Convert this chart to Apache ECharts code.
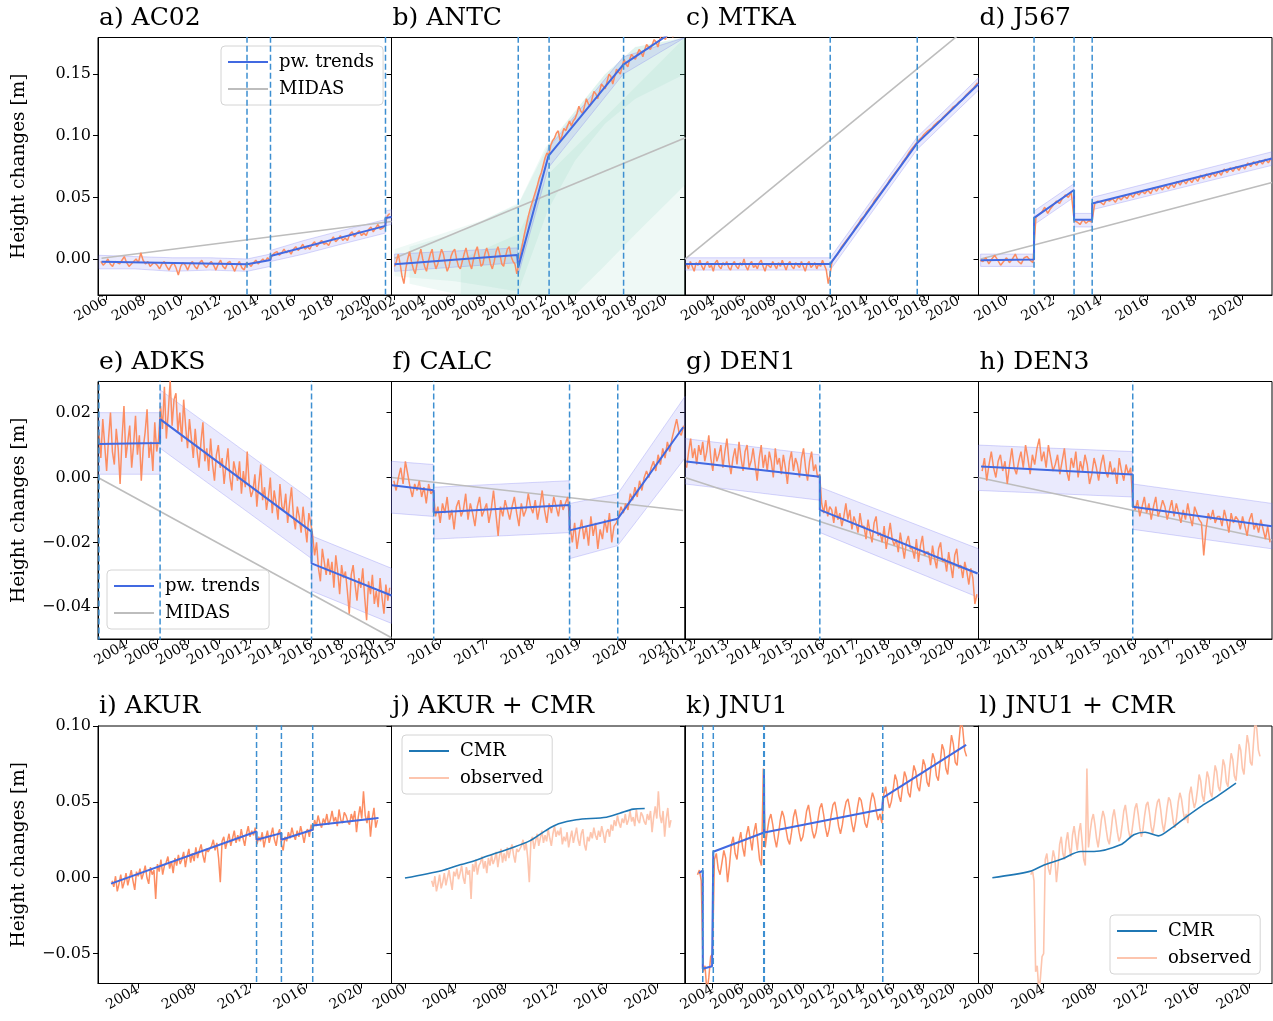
<!DOCTYPE html>
<html>
<head>
<meta charset="utf-8">
<script src="https://cdn.jsdelivr.net/npm/echarts@6/dist/echarts.min.js"></script>
<style>
html,body{margin:0;padding:0;background:#fff}
#chart{width:1273px;height:1021px}
</style>
</head>
<body>
<div id="chart"></div>
<script>
// ---------------------------------------------------------------------------
// GNSS height-change time series, all values in millimetres, times in decimal years
// ---------------------------------------------------------------------------
const TITLES = ['a) AC02','b) ANTC','c) MTKA','d) J567','e) ADKS','f) CALC','g) DEN1','h) DEN3',
                'i) AKUR','j) AKUR + CMR','k) JNU1','l) JNU1 + CMR'];

// axis limits (decimal years) and tick labels for each panel
const X_RANGE = [[2005.55,2021.17],[2001.8,2021.3],[2002.15,2021.31],[2008.81,2021.28],
                 [2002.14,2021.19],[2014.95,2021.28],[2011.7,2020.8],[2011.7,2019.73],
                 [2001.12,2022.13],[1998.93,2022.24],[2002.17,2021.67],[1998.92,2021.81]];
const X_TICKS = [[2006,2008,2010,2012,2014,2016,2018,2020],
                 [2002,2004,2006,2008,2010,2012,2014,2016,2018,2020],
                 [2004,2006,2008,2010,2012,2014,2016,2018,2020],
                 [2010,2012,2014,2016,2018,2020],
                 [2004,2006,2008,2010,2012,2014,2016,2018,2020],
                 [2015,2016,2017,2018,2019,2020,2021],
                 [2012,2013,2014,2015,2016,2017,2018,2019,2020],
                 [2012,2013,2014,2015,2016,2017,2018,2019],
                 [2004,2008,2012,2016,2020],
                 [2000,2004,2008,2012,2016,2020],
                 [2004,2006,2008,2010,2012,2014,2016,2018,2020],
                 [2000,2004,2008,2012,2016,2020]];
// height axis limits (m) and ticks for each row of panels
const Y_RANGE = [[-0.0292,0.1797],[-0.0498,0.0296],[-0.0697,0.100]];
const Y_TICKS = [[0,0.05,0.10,0.15],[-0.04,-0.02,0,0.02],[-0.05,0,0.05,0.10]];

// observed daily solutions, resampled: [start year, step in years]
const OBS_A_T = [2005.7,0.125];
const OBS_A = [-2,-5,-3,0,-4,-6,-2,-3, -4,-1,2,-3,-6,-4,-2,0, -3,5,-1,-4,-2,-6,-4,-3,
  -5,-8,-4,-2,-6,-9,-5,-3, -7,-13,-6,-3,-5,-9,-4,-2, -6,-8,-3,-1,-5,-7,-4,-2,
  -5,-9,-4,-1,-6,-8,-3,-2, -6,-10,-5,-2,-7,-9,-3,-4, -6,-3,-1,-4,-2,0,-2,1,
  -1,3,5,6,3,5,8,5, 7,4,8,10,7,9,12,8, 10,8,12,14,10,13,15,12,
  13,11,15,18,14,16,19,15, 17,15,20,22,18,21,23,19, 21,19,24,26,22,25,28,24, 25,27,35,37];
const OBS_B_T = [2002.0,0.125];
const OBS_B = [-6,-2,4,-4,-14,-20,-8,0, 6,-2,-8,-12,-4,2,8,0, -6,-10,-2,4,8,-2,-8,-4,
  2,8,4,-4,-10,-6,2,6, 8,0,-6,-8,-2,4,9,2, -4,-8,0,6,10,2,-6,-4,
  4,9,4,-4,-8,-2,6,10, 4,-4,-6,2,8,10,2,-2, -4,-12,-4,4,12,20,27,34,
  40,45,50,55,60,66,70,76, 82,86,84,92,96,98,102,104, 96,100,106,104,108,112,108,112,
  114,118,124,120,118,124,130,126, 124,130,136,134,130,136,142,140, 138,144,150,148,142,148,154,152,
  150,156,162,158,156,162,166,164, 162,166,170,168,164,170,174,172, 170,174,178,176,172,178,182,180,
  178,182,186,184,180,186,190,188, 186,190,188];
const OBS_C_T = [2002.25,0.125];
const OBS_C = [-4,-8,-2,-6,-10,-3,-5,-1, -6,-9,-4,-2,-7,-5,-10,-3, -1,-6,-8,-3,-5,-2,-7,-9,
  -4,-2,-6,-8,-3,-5,0,-6, -9,-4,-2,-7,-5,-8,-3,-1, -6,-10,-4,-3,-7,-2,-5,-8,
  -3,-6,-1,-5,-9,-4,-2,-6, -8,-3,-5,-7,-2,-6,-10,-4, -2,-7,-5,-3,-8,-4,-6,-1,
  -5,-9,-20,-12,-2,0,2,4, 7,10,11,14,16,18,20,22, 25,26,29,32,33,35,38,40,
  42,44,47,48,51,53,55,57, 59,61,64,65,68,70,72,74, 76,79,80,83,86,87,90,92,
  93,96,97,99,101,102,104,105, 106,108,109,111,112,113,115,116, 118,119,121,123,124,125,127,128,
  129,131,133,134,136,137,139,141, 143];
const OBS_D_T = [2008.875,0.125];
const OBS_D = [-1, -2,1,-4,0,3,-1,-5,-2, 1,-3,0,4,-2,-4,1,2, -1,-3,34,36,38,42,37,41,
  44,47,45,49,52,50,54,31, 30,28,32,29,31,30,45,47, 46,44,48,47,49,46,50,48,
  51,49,53,50,54,52,55,53, 56,53,58,55,59,56,60,57, 61,58,63,60,64,61,65,62,
  66,63,68,65,69,66,70,67, 71,68,73,70,74,71,75,72, 76,73,78,75,79,76,80,77, 81,78,82];
const OBS_E_T = [2002.2,0.125];
const OBS_E = [14,6,18,10,2,12,20,8, 4,15,9,-2,12,22,6,11, 16,3,10,19,7,13,-1,9,
  14,21,6,11,2,17,8,12, 22,15,28,12,20,30,16,24, 26,14,20,11,24,16,9,18,
  12,6,15,8,3,11,17,5, 9,2,12,4,-1,7,10,3, 6,-2,4,9,0,-4,5,2,
  -1,5,-5,2,-3,8,-2,-6, -4,1,-9,-2,4,-7,-3,-10, -6,0,-11,-4,-8,-13,-2,-9,
  -10,-5,-14,-8,-3,-12,-16,-9, -12,-17,-9,-15,-20,-11,-14,-18, -24,-20,-28,-32,-22,-26,-30,-25,
  -30,-26,-34,-24,-29,-36,-27,-31, -29,-35,-42,-30,-27,-33,-38,-31, -34,-28,-37,-44,-32,-36,-30,-39,
  -35,-40,-31,-37,-42,-33,-38,-34];
const OBS_F_T = [2015.0,0.05];
const OBS_F = [-1,-4,0,3,-2,5,1,-3,-6,-2, -4,-1,-6,-3,-8,-2,-5,-4,-12,-9,
  -14,-8,-11,-6,-13,-10,-16,-9,-7,-12, -10,-5,-13,-8,-11,-15,-9,-6,-12,-10,
  -8,-14,-10,-4,-11,-18,-9,-12,-7,-10, -13,-9,-6,-11,-15,-8,-12,-10,-5,-9,
  -11,-7,-13,-9,-4,-10,-14,-8,-11,-6, -9,-12,-7,-10,-8,-6,-15,-20,-14,-22,
  -17,-13,-19,-15,-21,-12,-18,-14,-22,-16, -19,-13,-17,-11,-20,-15,-14,-12,-9,-11,
  -8,-10,-5,-7,-3,-6,-1,-4,0,2, 0,3,5,2,7,4,9,6,11,8, 12,15,18,14,13,16];
const OBS_G_T = [2011.75,0.0625];
const OBS_G = [3,8,12,6,9,4,10,7, 11,5,8,13,6,2,9,5, 7,10,3,8,12,5,1,6, 9,4,11,6,2,8,10,3,
  5,9,4,-1,6,10,3,7, 2,8,5,0,9,4,6,1, 7,3,-2,5,8,2,6,4, 0,6,9,3,-1,5,8,2,
  4,0,1,-8,-11,-7,-12,-9, -10,-14,-9,-13,-11,-15,-12,-8, -13,-10,-16,-12,-14,-17,-11,-15,
  -15,-19,-13,-17,-20,-14,-12,-18, -17,-20,-15,-22,-18,-14,-19,-21, -19,-23,-17,-21,-25,-20,-18,-22,
  -22,-25,-19,-26,-21,-18,-24,-23, -23,-27,-21,-25,-28,-22,-20,-26, -25,-29,-23,-27,-31,-24,-22,-28,
  -27,-31,-26,-29,-33,-28,-31,-39, -36];
const OBS_H_T = [2011.8,0.0625];
const OBS_H = [2,6,-1,4,8,3,0,5, 7,2,5,-2,4,9,3,1, 5,8,3,10,6,1,7,4, 9,12,5,8,3,10,6,2,
  4,7,1,5,9,2,-1,6, 3,8,0,5,2,7,4,-2, 1,6,3,-1,4,7,2,0, 5,1,3,-2,6,2,-1,4,
  1,3,-8,-10,-7,-12,-9,-6, -11,-8,-13,-9,-6,-12,-10,-7, -9,-13,-10,-7,-12,-8,-11,-14,
  -10,-13,-8,-12,-15,-9,-11,-13, -14,-24,-16,-11,-13,-10,-14,-12, -12,-15,-10,-13,-17,-11,-14,-12,
  -13,-16,-12,-15,-18,-13,-11,-16, -14,-17,-13,-16,-19,-15,-20];
const OBS_I_T = [2002.125,0.125];
const OBS_I = [-2,-6,1,-9,-4,2,-7,-3, 3,-5,0,5,-2,-8,4,1, 6,-1,3,8,0,-4,7,2,
  5,-14,9,4,12,2,8,10, 14,6,11,3,13,8,15,9, 12,17,7,14,19,10,16,11,
  20,13,18,22,15,10,19,17, 16,21,25,18,23,13,-3,24, 27,19,24,29,21,26,31,23,
  28,24,32,26,21,29,34,27, 31,28,33,22,27,24,30,20, 26,31,23,28,33,25,21,29,
  32,22,18,27,24,30,26,33, 28,25,31,27,34,29,23,30, 32,27,35,31,38,34,41,36,
  33,39,36,42,35,38,44,37, 40,34,45,38,36,43,41,37, 35,42,38,44,30,40,47,39,
  57,41,36,44,27,39,46,33, 38];
const OBS_K_T = [2003.0,0.125];
const OBS_K = [2,5,-2,-62,-58,-75,-66,-52, -50,12,16,6,2,10,18,13, -3,8,22,27,16,12,24,30,
  20,14,28,34,26,18,30,36, 24,12,8,72,20,30,38,42, 35,26,20,28,38,44,40,32,
  25,22,30,40,45,38,30,24, 27,35,44,48,40,31,26,30, 38,46,49,42,33,27,32,41,
  48,50,43,34,29,35,44,50, 52,45,36,30,37,46,53,51, 44,36,33,40,50,56,52,44,
  38,42,36,55,60,52,46,50, 58,68,64,54,50,60,70,66, 56,53,64,74,70,60,57,67,
  78,74,63,60,72,82,78,67, 64,76,88,84,72,68,82,94, 88,76,74,90,104,98,84,80];

// piecewise trends [year, mm]
const TREND_A = [[2005.74,-2.2],[2013.48,-4.3],[2014.73,-0.8],[2014.73,2.4],[2020.85,26.9],[2020.85,33.2],[2021.17,34]];
const TREND_B = [[2002.0,-4.3],[2010.15,3.3],[2010.22,-6.8],[2012.22,83.4],[2017.2,157.7],[2021.3,191]];
const TREND_C = [[2002.2,-4],[2011.63,-4],[2017.31,94],[2021.31,142]];
const TREND_D = [[2008.9,-1],[2011.17,-0.5],[2011.17,33.4],[2012.87,56],[2012.87,31.8],[2013.64,31.8],[2013.64,45],[2021.28,81.6]];
const TREND_E = [[2002.2,10.3],[2006.17,10.6],[2006.17,18],[2016.0,-16.7],[2016.0,-26.5],[2021.19,-36.4]];
const TREND_F = [[2014.96,-2.4],[2015.86,-3.9],[2015.86,-10.8],[2018.79,-8.5],[2018.79,-16.3],[2019.83,-12.7],[2021.24,15.5]];
const TREND_G = [[2011.74,4.9],[2015.88,0.2],[2015.88,-10],[2020.77,-29.6]];
const TREND_H = [[2011.77,3.4],[2015.92,0.9],[2015.92,-9],[2019.73,-15]];
const TREND_I = [[2002.05,-3.9],[2012.47,30.5],[2012.47,25],[2014.25,29.4],[2014.25,25],[2016.49,31.6],[2016.49,34.4],[2021.2,39.3]];
const TREND_K = [[2003.1,3.1],[2003.35,4.8],[2003.35,-60],[2003.97,-58.3],[2004.05,17.1],[2007.42,29.8],[2007.42,67.8],[2007.44,29.8],[2015.27,45.2],[2015.33,52.8],[2020.85,87.5]];

// MIDAS linear velocities [year, mm]
const MIDAS_A = [[2005.74,0.6],[2021.17,30.4]];
const MIDAS_B = [[2002.0,0.6],[2021.33,98.4]];
const MIDAS_C = [[2002.15,0],[2021.31,195]];
const MIDAS_D = [[2008.9,0],[2021.28,62]];
const MIDAS_E = [[2002.14,0],[2021.19,-49.4]];
const MIDAS_F = [[2014.96,0],[2021.24,-10.2]];
const MIDAS_G = [[2011.7,0],[2020.8,-29.5]];
const MIDAS_H = [[2011.7,0],[2019.73,-19.3]];

// detected breakpoints (years)
const BREAKS_A = [2013.48,2014.73,2020.85];
const BREAKS_B = [2010.22,2012.27,2017.22];
const BREAKS_C = [2011.63,2017.31];
const BREAKS_D = [2011.17,2012.87,2013.64];
const BREAKS_E = [2002.2,2006.17,2016.0];
const BREAKS_F = [2015.86,2018.79,2019.83];
const BREAKS_G = [2015.88];
const BREAKS_H = [2015.92];
const BREAKS_I = [2012.47,2014.25,2016.49];
const BREAKS_K = [2003.35,2004.05,2007.40,2007.44,2015.31];

// uncertainty envelopes [year, lower mm, upper mm]
const BAND_A = [[2005.6,-8,3],[2007.5,-8,2],[2009.5,-10,1],[2011.5,-9,1],[2013.48,-10,0],[2014.72,-6,4],[2014.74,-2,7],[2016.5,4,15],[2018.5,12,23],[2020.84,21,32],[2020.86,27,39],[2021.17,28,40]];
const BAND_B = [[2002,-10,4],[2010.15,-3,9],[2010.22,-13,1],[2012.22,74,90],[2017.2,150,164],[2021.3,183,198]];
const BAND_C = [[2002.15,-9,1],[2011.63,-9,1],[2017.31,89,99],[2021.31,137,147]];
const BAND_D = [[2008.9,-6,4],[2011.16,-6,4],[2011.18,28,39],[2012.86,50,61],[2012.88,26,37],[2013.63,26,37],[2013.65,40,50],[2021.28,76,87]];
const BAND_E = [[2002.14,1,20],[2006.16,1,20],[2006.18,9,27],[2016.0,-25,-7],[2016.01,-35,-18],[2021.19,-45,-28]];
const BAND_F = [[2014.95,-11,5],[2015.85,-12,4],[2015.87,-19,-3],[2018.78,-17,-1],[2018.8,-25,-8],[2019.83,-21,-5],[2021.28,6,25]];
const BAND_G = [[2011.67,-2,12],[2015.87,-7,7],[2015.89,-17,-3],[2020.8,-37,-22]];
const BAND_H = [[2011.7,-4,10],[2015.91,-6,8],[2015.93,-16,-2],[2019.73,-22,-8]];
// ensemble spread for ANTC
const FAN_B1 = [[2002,-14,8],[2004,-16,16],[2006,-18,24],[2008,-22,32],[2010,-26,44],[2010.3,-24,46],[2012.2,40,92],[2014,80,120],[2016,110,150],[2018,130,172],[2021.3,150,200]];
const FAN_B2 = [[2003,-20,10],[2006.4,-35,22],[2008.3,-60,34],[2010.2,-80,44],[2012,-60,90],[2014,-30,120],[2016,-5,150],[2018,20,172],[2021.3,60,200]];
const FAN_B3 = [[2006.4,-40,0],[2008.3,-80,10],[2010.2,-120,20],[2012.3,-100,70],[2021.3,-40,190]];

// modelled crustal motion (CMR) [year, mm]
const CMR_J = [[2000.0,-0.2],[2002.97,4.8],[2004.2,8.1],[2005.2,10.3],[2006.6,14.5],[2008.4,19.5],[2009.9,24.3],[2011.14,30.9],[2012.2,35.5],[2013.6,38.2],[2016.0,39.9],[2017.06,42.5],[2018.13,45.2],[2019.04,45.6]];
const CMR_L = [[2000.0,0],[2002.92,4.2],[2003.95,8.1],[2005.42,12.3],[2006.9,17.3],[2007.93,17.3],[2009.99,21.7],[2011.03,28.3],[2011.91,30],[2012.94,27.6],[2013.97,32.7],[2015.15,40.3],[2016.34,47.4],[2017.5,53.5],[2019.0,62.3]];

// ---------------------------------------------------------------------------
const FONT = 'DejaVu Serif';
const COLORS = {
  obs:'#fc8d62', obsLight:'#fdc5ae', trend:'#4169e1', midas:'#bdbdbd', brk:'#3d8fd1', cmr:'#1f77b4',
  band:'rgba(115,115,240,0.15)', bandEdge:'rgba(115,115,240,0.28)', fan:'rgba(102,194,165,0.10)'
};
const COL_LEFT = [98, 391.5, 685, 978.5], COL_W = 293.5;
const ROW_TOP = [37.5, 381.5, 726], ROW_H = 257.5;

const PANELS = [
  {obs:[OBS_A_T,OBS_A], trend:TREND_A, midas:MIDAS_A, breaks:BREAKS_A, bands:[BAND_A]},
  {obs:[OBS_B_T,OBS_B], trend:TREND_B, midas:MIDAS_B, breaks:BREAKS_B, bands:[BAND_B], fans:[FAN_B3,FAN_B2,FAN_B1]},
  {obs:[OBS_C_T,OBS_C], trend:TREND_C, midas:MIDAS_C, breaks:BREAKS_C, bands:[BAND_C]},
  {obs:[OBS_D_T,OBS_D], trend:TREND_D, midas:MIDAS_D, breaks:BREAKS_D, bands:[BAND_D]},
  {obs:[OBS_E_T,OBS_E], trend:TREND_E, midas:MIDAS_E, breaks:BREAKS_E, bands:[BAND_E]},
  {obs:[OBS_F_T,OBS_F], trend:TREND_F, midas:MIDAS_F, breaks:BREAKS_F, bands:[BAND_F]},
  {obs:[OBS_G_T,OBS_G], trend:TREND_G, midas:MIDAS_G, breaks:BREAKS_G, bands:[BAND_G]},
  {obs:[OBS_H_T,OBS_H], trend:TREND_H, midas:MIDAS_H, breaks:BREAKS_H, bands:[BAND_H]},
  {obs:[OBS_I_T,OBS_I], trend:TREND_I, breaks:BREAKS_I},
  {light:[OBS_I_T,OBS_I], cmr:CMR_J},
  {obs:[OBS_K_T,OBS_K], trend:TREND_K, breaks:BREAKS_K},
  {light:[OBS_K_T,OBS_K], cmr:CMR_L}
];

const mm = v => v / 1000;
const series_t = (t, vals) => vals.map((v, i) => [+(t[0] + i * t[1]).toFixed(4), mm(v)]);
const pairs = arr => arr.map(p => [p[0], mm(p[1])]);
const clamp = (v, lo, hi) => Math.max(lo, Math.min(hi, v));
const fmtY = v => v.toFixed(2).replace('-', '\u2212');

function envelope(idx, band, xr, yr, fill, edge) {
  const pts = band.map(b => [clamp(b[0], xr[0], xr[1]), clamp(mm(b[1]), yr[0], yr[1]), clamp(mm(b[2]), yr[0], yr[1])]);
  return {
    type:'custom', xAxisIndex:idx, yAxisIndex:idx, silent:true, z:1, clip:true,
    encode:{x:0, y:1}, data:[[pts[0][0], pts[0][2]]],
    renderItem:(params, api) => {
      const up = pts.map(q => api.coord([q[0], q[2]]));
      const dn = pts.slice().reverse().map(q => api.coord([q[0], q[1]]));
      return {type:'polygon', shape:{points:up.concat(dn)},
              style:{fill:fill, stroke:edge || null, lineWidth:edge ? 1 : 0}};
    }
  };
}

const grids = [], xAxes = [], yAxes = [], series = [], titles = [];
PANELS.forEach((p, i) => {
  const row = Math.floor(i / 4), col = i % 4;
  const xr = X_RANGE[i], yr = Y_RANGE[row];
  grids.push({left:COL_LEFT[col], top:ROW_TOP[row], width:COL_W, height:ROW_H,
              show:true, borderColor:'#000', borderWidth:1, backgroundColor:'transparent'});
  titles.push({text:TITLES[i], left:COL_LEFT[col] + 1, top:ROW_TOP[row] - 32, padding:0,
               textStyle:{fontFamily:FONT, fontSize:25, fontWeight:'normal', color:'#000'}});
  xAxes.push({
    gridIndex:i, type:'value', min:xr[0], max:xr[1],
    axisLine:{show:true, onZero:false, lineStyle:{color:'#000', width:1}},
    axisTick:{show:true, inside:false, length:5, customValues:X_TICKS[i], lineStyle:{color:'#000', width:1}},
    axisLabel:{customValues:X_TICKS[i], rotate:30, margin:5, fontFamily:FONT, fontSize:14, color:'#000',
               formatter:v => String(Math.round(v))},
    splitLine:{show:false}
  });
  const ya = {
    gridIndex:i, type:'value', min:yr[0], max:yr[1],
    axisLine:{show:true, onZero:false, lineStyle:{color:'#000', width:1}},
    axisTick:{show:true, inside:false, length:5, customValues:Y_TICKS[row], lineStyle:{color:'#000', width:1}},
    axisLabel:{show:col === 0, customValues:Y_TICKS[row], margin:7, fontFamily:FONT, fontSize:16, color:'#000',
               formatter:fmtY},
    splitLine:{show:false}
  };
  if (col === 0) {
    Object.assign(ya, {name:'Height changes [m]', nameLocation:'middle', nameGap:69, nameRotate:90,
      nameTextStyle:{fontFamily:FONT, fontSize:18.5, color:'#000'}});
  }
  yAxes.push(ya);

  (p.fans || []).forEach(f => series.push(envelope(i, f, xr, yr, COLORS.fan, null)));
  (p.bands || []).forEach(b => series.push(envelope(i, b, xr, yr, COLORS.band, COLORS.bandEdge)));
  const line = (name, data, color, width, z, extra) => Object.assign({
    type:'line', name:name, xAxisIndex:i, yAxisIndex:i, data:data, color:color,
    showSymbol:false, symbol:'none', silent:true, z:z,
    lineStyle:{color:color, width:width}
  }, extra || {});
  if (p.midas) series.push(line('MIDAS', pairs(p.midas), COLORS.midas, 1.6, 2));
  if (p.light) series.push(line('observed', series_t(p.light[0], p.light[1]), COLORS.obsLight, 1.6, 3));
  if (p.obs) series.push(line('obs', series_t(p.obs[0], p.obs[1]), COLORS.obs, 1.5, 3));
  if (p.trend) series.push(line('pw. trends', pairs(p.trend), COLORS.trend, 2, 4));
  if (p.cmr) series.push(line('CMR', pairs(p.cmr), COLORS.cmr, 1.6, 4, {smooth:0.3}));
  (p.breaks || []).forEach(b => series.push(line('brk', [[b, -1], [b, 1]], COLORS.brk, 1.5, 5,
    {lineStyle:{color:COLORS.brk, width:1.5, type:[6, 3]}})));
});

const legendBase = {
  orient:'vertical', selectedMode:false, icon:'rect', itemWidth:40, itemHeight:2, itemGap:9,
  padding:[7, 9, 7, 7], borderColor:'#d4d4d4', borderWidth:1, borderRadius:4,
  backgroundColor:'rgba(255,255,255,0.85)',
  textStyle:{fontFamily:FONT, fontSize:18, color:'#000', padding:[0, 0, 0, 6]}
};
const legends = [
  Object.assign({}, legendBase, {data:['pw. trends', 'MIDAS'], left:221, top:46}),
  Object.assign({}, legendBase, {data:['pw. trends', 'MIDAS'], left:107, top:570}),
  Object.assign({}, legendBase, {data:['CMR', 'observed'], left:402, top:735}),
  Object.assign({}, legendBase, {data:['CMR', 'observed'], left:1110, top:915})
];

const chart = echarts.init(document.getElementById('chart'), null, {renderer:'canvas'});
chart.setOption({
  animation:false,
  backgroundColor:'#fff',
  title:titles,
  legend:legends,
  grid:grids,
  xAxis:xAxes,
  yAxis:yAxes,
  series:series
});
</script>
</body>
</html>
